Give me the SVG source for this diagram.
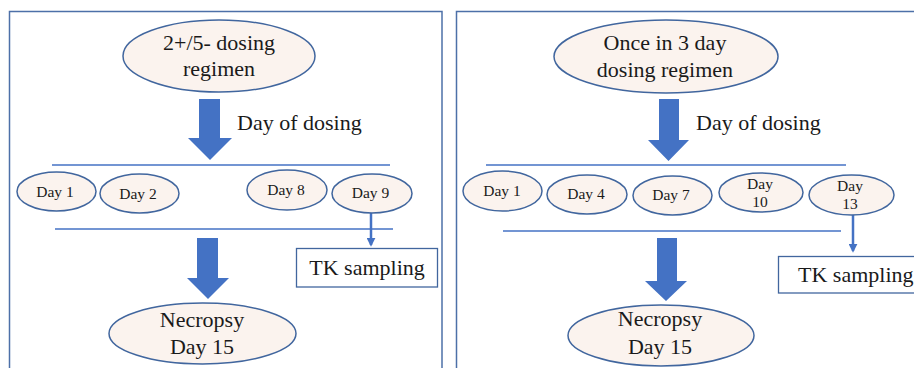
<svg xmlns="http://www.w3.org/2000/svg" width="914" height="368" viewBox="0 0 914 368">
<defs>
<style>
.frame{fill:none;stroke:#4d70a8;stroke-width:1.5}
.ell{fill:#fbf3ee;stroke:#41669e;stroke-width:1.5}
.big{font-family:'Liberation Serif','DejaVu Serif',serif;font-size:22px;fill:#1a1a1a;text-anchor:middle}
.sm{font-family:'Liberation Serif','DejaVu Serif',serif;font-size:15.5px;fill:#1a1a1a;text-anchor:middle}
.bar{stroke:#4472c4;stroke-width:1.3}
.fat{fill:#4472c4}
.thin{stroke:#4472c4;stroke-width:2.5;fill:none;marker-end:url(#ah)}
.box{fill:#fff;stroke:#41669e;stroke-width:1.3}
</style>
<marker id="ah" viewBox="0 0 10 10" refX="8" refY="5" markerWidth="3.6" markerHeight="3.6" orient="auto">
<path d="M0,0 L10,5 L0,10 z" fill="#4472c4"/>
</marker>
</defs>
<rect width="914" height="368" fill="#fff"/>
<rect class="frame" x="9.5" y="11.5" width="432.5" height="380"/>
<rect class="frame" x="456.5" y="11.5" width="480" height="380"/>

<g id="connectors">
<polygon class="fat" points="199,99 220,99 220,138 232,138 210,160 188,138 199,138"/>
<polygon class="fat" points="197,238 218,238 218,278 229,278 208,299 187,278 197,278"/>
<polygon class="fat" points="659,99 679,99 679,140 689,140 668.5,161 648,140 659,140"/>
<polygon class="fat" points="657,238 677,238 677,281 687,281 666,301 645,281 657,281"/>
<line class="bar" x1="52" y1="165" x2="390" y2="165"/>
<line class="bar" x1="55" y1="229" x2="393" y2="229"/>
<line class="bar" x1="486" y1="165" x2="846" y2="165"/>
<line class="bar" x1="503" y1="231" x2="841" y2="231"/>
<line class="thin" x1="371" y1="213" x2="371" y2="245"/>
<line class="thin" x1="853" y1="215" x2="853" y2="251"/>
<text class="big" x="237" y="130" style="text-anchor:start">Day of dosing</text>
<text class="big" x="696" y="130" style="text-anchor:start">Day of dosing</text>
</g>

<g id="regimen-left">
<ellipse class="ell" cx="219" cy="56" rx="96" ry="36"/>
<text class="big" x="219" y="50">2+/5- dosing</text>
<text class="big" x="219" y="76">regimen</text>
</g>
<g id="day1-left"><ellipse class="ell" cx="56.5" cy="191.5" rx="39.5" ry="19.5"/><text class="sm" x="55" y="197">Day 1</text></g>
<g id="day2-left"><ellipse class="ell" cx="139.5" cy="193.5" rx="39.5" ry="19.5"/><text class="sm" x="138" y="199">Day 2</text></g>
<g id="day8-left"><ellipse class="ell" cx="287" cy="190" rx="40" ry="20"/><text class="sm" x="286" y="195">Day 8</text></g>
<g id="day9-left"><ellipse class="ell" cx="372" cy="193.5" rx="40" ry="19.5"/><text class="sm" x="370.5" y="198">Day 9</text></g>
<g id="tk-left"><rect class="box" x="296.5" y="248.5" width="141" height="38.5"/><text class="big" x="367" y="275">TK sampling</text></g>
<g id="necropsy-left">
<ellipse class="ell" cx="202.5" cy="333.5" rx="93.5" ry="30.5"/>
<text class="big" x="202" y="326.5">Necropsy</text>
<text class="big" x="202" y="354">Day 15</text>
</g>

<g id="regimen-right">
<ellipse class="ell" cx="666" cy="56.5" rx="112" ry="36.5"/>
<text class="big" x="665" y="50">Once in 3 day</text>
<text class="big" x="665" y="77">dosing regimen</text>
</g>
<g id="day1-right"><ellipse class="ell" cx="502.5" cy="191" rx="39.5" ry="20"/><text class="sm" x="502" y="196">Day 1</text></g>
<g id="day4-right"><ellipse class="ell" cx="587" cy="194.5" rx="40" ry="19.5"/><text class="sm" x="586" y="199">Day 4</text></g>
<g id="day7-right"><ellipse class="ell" cx="672.5" cy="195.5" rx="39.5" ry="19.5"/><text class="sm" x="671" y="200">Day 7</text></g>
<g id="day10-right"><ellipse class="ell" cx="761" cy="192.5" rx="42" ry="19.5"/><text class="sm" x="760" y="189">Day</text><text class="sm" x="760" y="207">10</text></g>
<g id="day13-right"><ellipse class="ell" cx="851.5" cy="195" rx="42.5" ry="20"/><text class="sm" x="850" y="191">Day</text><text class="sm" x="850" y="209">13</text></g>
<g id="tk-right"><rect class="box" x="778.5" y="256.5" width="160" height="36.5"/><text class="big" x="798" y="282" style="text-anchor:start">TK sampling</text></g>
<g id="necropsy-right">
<ellipse class="ell" cx="661" cy="335.5" rx="93" ry="30.5"/>
<text class="big" x="660" y="326">Necropsy</text>
<text class="big" x="660" y="354">Day 15</text>
</g>
</svg>
